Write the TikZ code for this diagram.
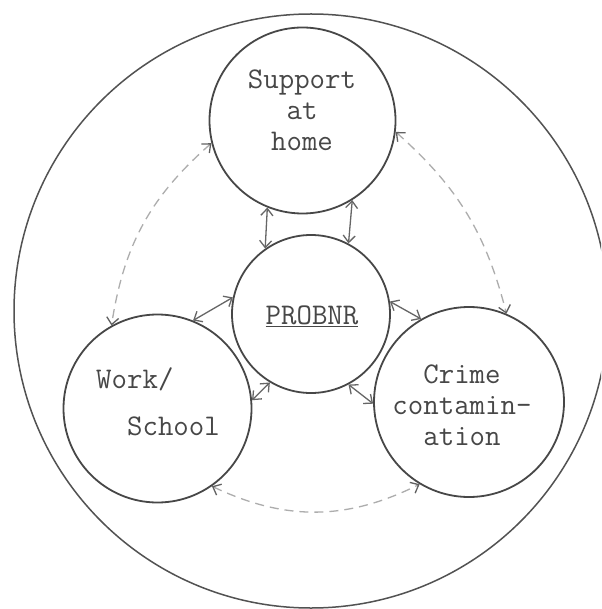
\documentclass[tikz,border=0pt]{standalone}
\usepackage{fontspec}
\usetikzlibrary{arrows.meta}

\begin{document}
\begin{tikzpicture}[
  x=1pt, y=-1pt,
  >={Straight Barb[length=7pt,width=12pt]},
  font=\ttfamily\fontsize{30}{31}\selectfont,
  sphere/.style={circle, draw=black!72, line width=1.8pt, inner sep=0pt},
  lab/.style={text=black!72, align=center, inner sep=0pt},
  link/.style={<->, draw=black!60, line width=1.3pt},
  loose/.style={<->, draw=black!32, line width=1.3pt, dash pattern=on 9pt off 6pt,
    >={Straight Barb[length=7pt,width=12pt,color=black!62]}}
]
\clip (0,0) rectangle (601,609);
\fill[white] (0,0) rectangle (601,609);

% outer boundary and the four spheres
\node[sphere, draw=black!68, line width=1.5pt, minimum size=594pt] (world) at (311,311) {};
\node[sphere, minimum size=186pt] (home) at (302.5,120.5) {};
\node[sphere, minimum size=158pt] (core) at (311,314) {};
\node[sphere, minimum size=188pt] (work) at (157.5,408.5) {};
\node[sphere, minimum size=190pt] (crime) at (469,402) {};

\node[lab] (homeTxt) at (302,110) {Support\\at\\home};
\node[lab] (coreTxt) at (312,316) {\underline{PROBNR}};
\node[lab, align=left] (workTxt) at (158,401.5) {Work/\\[16pt]\hphantom{Wo}School};
\node[lab] (crimeTxt) at (462,405) {Crime\\contamin-\\ation};

% direct links to the centre
\draw[link] (home.248) -- (core.125);
\draw[link] (home.302) -- (core.62);
\draw[link] (core.168) -- (work.68);
\draw[link] (core.239) -- (work.5);
\draw[link] (core.9) -- (crime.120);
\draw[link] (core.298) -- (crime.181);

% looser links round the outside
\draw[loose] (home.194) to[bend right=20] (work.119);
\draw[loose] (home.353) to[bend left=17] (crime.67);
\draw[loose] (work.305) to[bend right=26] (crime.239);
\end{tikzpicture}
\end{document}
